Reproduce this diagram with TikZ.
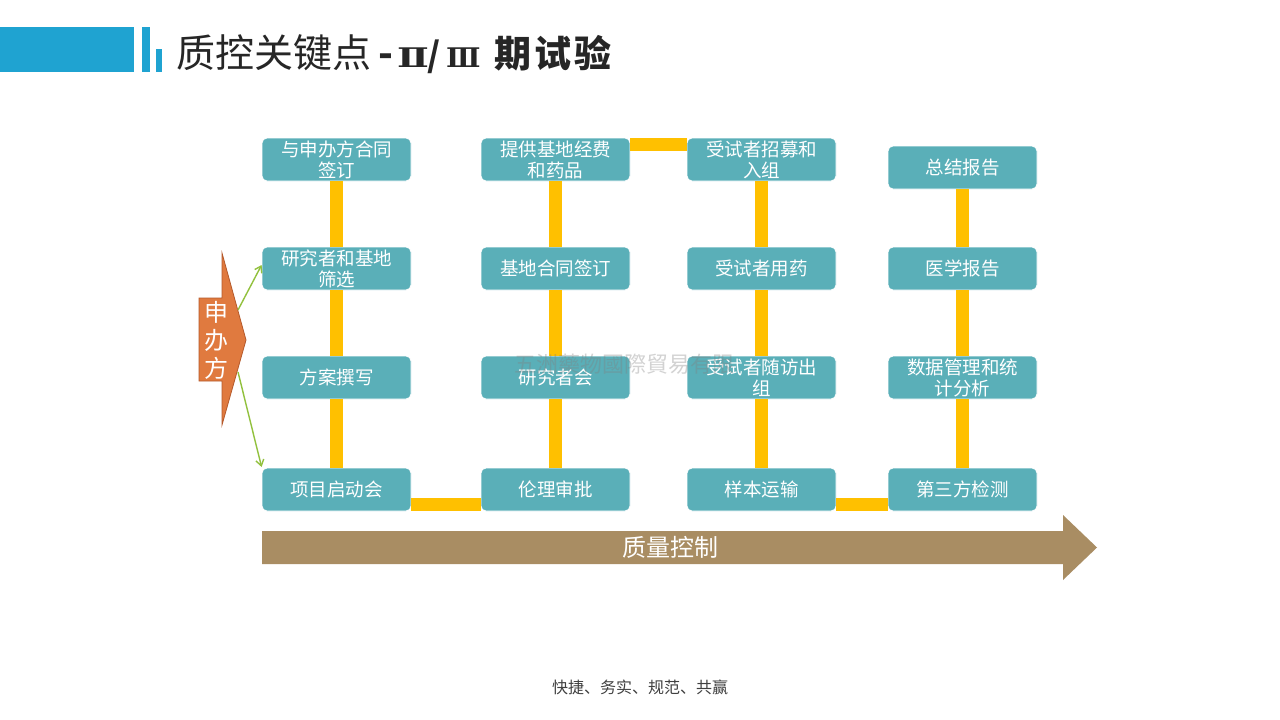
\documentclass[tikz,border=0pt]{standalone}
\usepackage{fontspec}
\usepackage{graphicx}
\setmainfont{Noto Sans CJK SC}
\newfontfamily\romnum{DejaVu Serif}
\usetikzlibrary{arrows.meta}
\definecolor{titleblue}{HTML}{1FA3D1}
\definecolor{boxteal}{HTML}{5AAFB8}
\definecolor{connyellow}{HTML}{FFC000}
\definecolor{sponsororange}{HTML}{E07A3F}
\definecolor{sponsoredge}{HTML}{B5592B}
\definecolor{arrowgreen}{HTML}{92C13E}
\definecolor{qcbrown}{HTML}{A98D63}
\definecolor{footgray}{HTML}{404040}
\definecolor{titletext}{HTML}{262626}
\newcommand{\fsz}[2]{\fontsize{#1}{#2}\selectfont}
\newcommand{\romII}{\scalebox{1.4}[1.0]{\romnum\bfseries\fsz{27}{30}Ⅱ}}
\newcommand{\romIII}{\scalebox{1.05}[1.0]{\romnum\bfseries\fsz{27}{30}Ⅲ}}
\tikzset{
  stepbox/.style={draw=white, line width=0.8pt, fill=boxteal, rounded corners=5pt,
    minimum width=149pt, minimum height=43pt, inner sep=0pt, text=white,
    align=center, font=\fsz{18.5}{21}},
  yconn/.style={draw=connyellow, line width=13pt},
  greenarrow/.style={draw=arrowgreen, line width=1.4pt, -{Straight Barb[length=6pt,width=8pt]}},
}
\begin{document}
\begin{tikzpicture}[x=1pt,y=-1pt]
\useasboundingbox (0,0) rectangle (1280,720);
\fill[white] (0,0) rectangle (1280,720);
% title bars
\fill[titleblue] (0,27) rectangle (134,72);
\fill[titleblue] (141.5,27) rectangle (149.5,72);
\fill[titleblue] (156,49) rectangle (162,72);
\node[anchor=west, inner sep=0pt, text=titletext, font=\fsz{39}{42}] (title) at (176,54)
  {\makebox[202pt][l]{质控关键点}\makebox[19pt][l]{\bfseries -}\makebox[30pt][l]{\romII}\makebox[19pt][l]{\bfseries\fsz{34}{40}/}\makebox[48pt][l]{\romIII}{\bfseries\fsz{37}{40}期\hspace{3pt}试\hspace{3pt}验}};
% boxes
\node[stepbox] (b11) at (336.5,159.5) {与申办方合同\\签订};
\node[stepbox] (b21) at (336.5,268.5) {研究者和基地\\筛选};
\node[stepbox] (b31) at (336.5,377.5) {方案撰写};
\node[stepbox] (b41) at (336.5,489.5) {项目启动会};
\node[stepbox] (b12) at (555.5,159.5) {提供基地经费\\和药品};
\node[stepbox] (b22) at (555.5,268.5) {基地合同签订};
\node[stepbox] (b32) at (555.5,377.5) {研究者会};
\node[stepbox] (b42) at (555.5,489.5) {伦理审批};
\node[stepbox] (b13) at (761.5,159.5) {受试者招募和\\入组};
\node[stepbox] (b23) at (761.5,268.5) {受试者用药};
\node[stepbox] (b33) at (761.5,377.5) {受试者随访出\\组};
\node[stepbox] (b43) at (761.5,489.5) {样本运输};
\node[stepbox] (b14) at (962.5,167.5) {总结报告};
\node[stepbox] (b24) at (962.5,268.5) {医学报告};
\node[stepbox] (b34) at (962.5,377.5) {数据管理和统\\计分析};
\node[stepbox] (b44) at (962.5,489.5) {第三方检测};
% yellow connectors between box edges
\draw[yconn] (b11.south) -- (b21.north);
\draw[yconn] (b21.south) -- (b31.north);
\draw[yconn] (b31.south) -- (b41.north);
\draw[yconn] ([yshift=6.5pt]b41.south east) -- ([yshift=6.5pt]b42.south west);
\draw[yconn] (b42.north) -- (b32.south);
\draw[yconn] (b32.north) -- (b22.south);
\draw[yconn] (b22.north) -- (b12.south);
\draw[yconn] ([yshift=-6.5pt]b12.north east) -- ([yshift=-6.5pt]b13.north west);
\draw[yconn] (b13.south) -- (b23.north);
\draw[yconn] (b23.south) -- (b33.north);
\draw[yconn] (b33.south) -- (b43.north);
\draw[yconn] ([yshift=6.5pt]b43.south east) -- ([yshift=6.5pt]b44.south west);
\draw[yconn] (b44.north) -- (b34.south);
\draw[yconn] (b34.north) -- (b24.south);
\draw[yconn] (b24.north) -- (b14.south);
% sponsor arrow
\draw[fill=sponsororange, draw=sponsoredge, line width=0.8pt]
  (199,298) -- (222,298) -- (222,253) -- (246,340) -- (222,425) -- (222,381) -- (199,381) -- cycle;
\node[text=white, align=center, inner sep=0pt, font=\fsz{24}{28}] (sponsor) at (216,340) {申\\办\\方};
\coordinate (g1) at (238,310);
\coordinate (g2) at (238,372);
\draw[greenarrow] (g1) -- (b21.west |- 0,265);
\draw[greenarrow] (g2) -- (b41.west |- 0,467);
% quality control arrow
\fill[qcbrown] (262,531) -- (1063,531) -- (1063,515) -- (1097,547.5) -- (1063,580) -- (1063,564) -- (262,564) -- cycle;
\node[text=white, inner sep=0pt, font=\fsz{24}{28}] (qc) at (670,547.5) {质量控制};
% watermark
\node[anchor=west, inner sep=0pt, text=gray, opacity=0.35, font=\fsz{22}{26}] (wm) at (514,364) {五洲藥物國際貿易有限};
% footer
\node[text=footgray, inner sep=0pt, font=\fsz{16}{19}] (foot) at (640,687) {快捷、务实、规范、共赢};
\end{tikzpicture}
\end{document}
